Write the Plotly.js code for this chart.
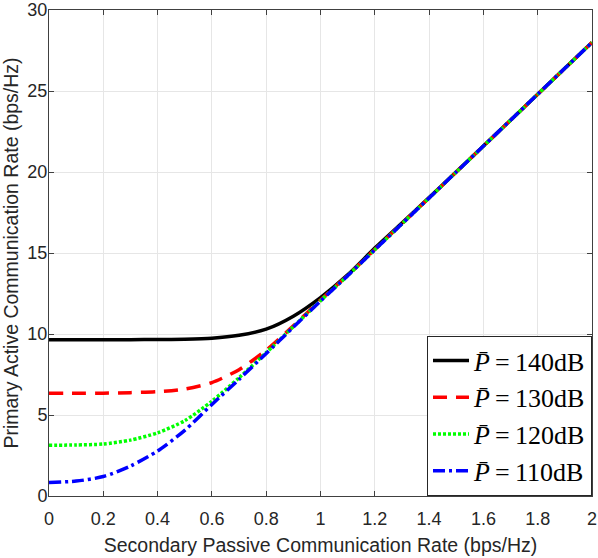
<!DOCTYPE html>
<html>
<head>
<meta charset="utf-8">
<script src="https://cdn.plot.ly/plotly-3.0.1.min.js"></script>
<style>
  html, body { margin: 0; padding: 0; background: #fff; }
  #myDiv { width: 598px; height: 558px; }
</style>
</head>
<body>
<div id="myDiv"></div>
<script>
// secondary passive rate (bps/Hz)
let rate = [0, 0.1, 0.2, 0.3, 0.4, 0.5, 0.6, 0.7, 0.8, 0.9, 1.0,
            1.1, 1.2, 1.3, 1.4, 1.5, 1.6, 1.7, 1.8, 1.9, 2.0];

// primary active rate for each power budget
let p140 = [9.65, 9.65, 9.65, 9.65, 9.66, 9.68, 9.74, 9.92, 10.3, 11.1, 12.25,
            13.65, 15.3, 16.85, 18.42, 20.01, 21.6, 23.2, 24.8, 26.4, 28.0];
let p130 = [6.34, 6.34, 6.35, 6.38, 6.44, 6.6, 7.0, 7.8, 9.0, 10.5, 12.1,
            13.62, 15.22, 16.81, 18.4, 20.0, 21.6, 23.2, 24.8, 26.4, 28.0];
let p120 = [3.13, 3.15, 3.21, 3.45, 3.9, 4.65, 5.85, 7.3, 8.85, 10.45, 12.05,
            13.6, 15.2, 16.8, 18.4, 20.0, 21.6, 23.2, 24.8, 26.4, 28.0];
let p110 = [0.83, 0.92, 1.2, 1.85, 2.78, 4.05, 5.65, 7.2, 8.8, 10.42, 12.03,
            13.6, 15.2, 16.8, 18.4, 20.0, 21.6, 23.2, 24.8, 26.4, 28.0];

let names = ['<i>P\u0304</i>\u2009=\u2009140dB', '<i>P\u0304</i>\u2009=\u2009130dB',
             '<i>P\u0304</i>\u2009=\u2009120dB', '<i>P\u0304</i>\u2009=\u2009110dB'];

let xTicks = [0, 0.2, 0.4, 0.6, 0.8, 1, 1.2, 1.4, 1.6, 1.8, 2];
let xTickText = ['0', '0.2', '0.4', '0.6', '0.8', '1', '1.2', '1.4', '1.6', '1.8', '2'];
let yTicks = [0, 5, 10, 15, 20, 25, 30];

function curve(y, name, color, dash, group) {
    return {
        x: rate, y: y, name: name, type: 'scatter', mode: 'lines', legendgroup: group,
        line: {color: color, width: 3.5, dash: dash, shape: 'spline', smoothing: 0.7}
    };
}

var data = [
    curve(p140, names[0], '#000000', 'solid', 'a'),
    curve(p130, names[1], '#ff0000', '14px,9px', 'b'),
    curve(p120, names[2], '#00ff00', '3px,2px', 'c'),
    curve(p110, names[3], '#0000ff', '12px,4px,3px,4px', 'd')
];

var sans = 'Liberation Sans, Arial, sans-serif';
var axisStyle = {
    showline: true, mirror: 'ticks', linecolor: '#404040', linewidth: 1,
    ticks: 'inside', ticklen: 5, tickcolor: '#404040',
    showgrid: true, gridcolor: '#e6e6e6', zeroline: false,
    ticklabeloverflow: 'allow',
    tickfont: {family: sans, size: 18, color: '#262626'}
};

var layout = {
    width: 598, height: 558,
    margin: {l: 49, r: 6, t: 10, b: 62},
    paper_bgcolor: '#ffffff', plot_bgcolor: '#ffffff',
    showlegend: true,
    legend: {
        x: 1, xanchor: 'right', y: 0, yanchor: 'bottom',
        bgcolor: '#ffffff', bordercolor: '#262626', borderwidth: 1,
        font: {family: 'Liberation Serif, DejaVu Serif, serif', size: 26, color: '#000'},
        itemwidth: 36, tracegroupgap: 0
    },
    xaxis: Object.assign({}, axisStyle, {
        range: [0, 2], tickvals: xTicks, ticktext: xTickText, ticklabelstandoff: 6,
        title: {text: 'Secondary Passive Communication Rate (bps/Hz)', standoff: 10,
                font: {family: sans, size: 19.5, color: '#262626'}}
    }),
    yaxis: Object.assign({}, axisStyle, {
        range: [0, 30], tickvals: yTicks, ticklabelstandoff: -3,
        title: {text: 'Primary Active Communication Rate (bps/Hz)', standoff: 9,
                font: {family: sans, size: 19.5, color: '#262626'}}
    })
};

Plotly.newPlot('myDiv', data, layout, {displayModeBar: false, staticPlot: true});
</script>
</body>
</html>
